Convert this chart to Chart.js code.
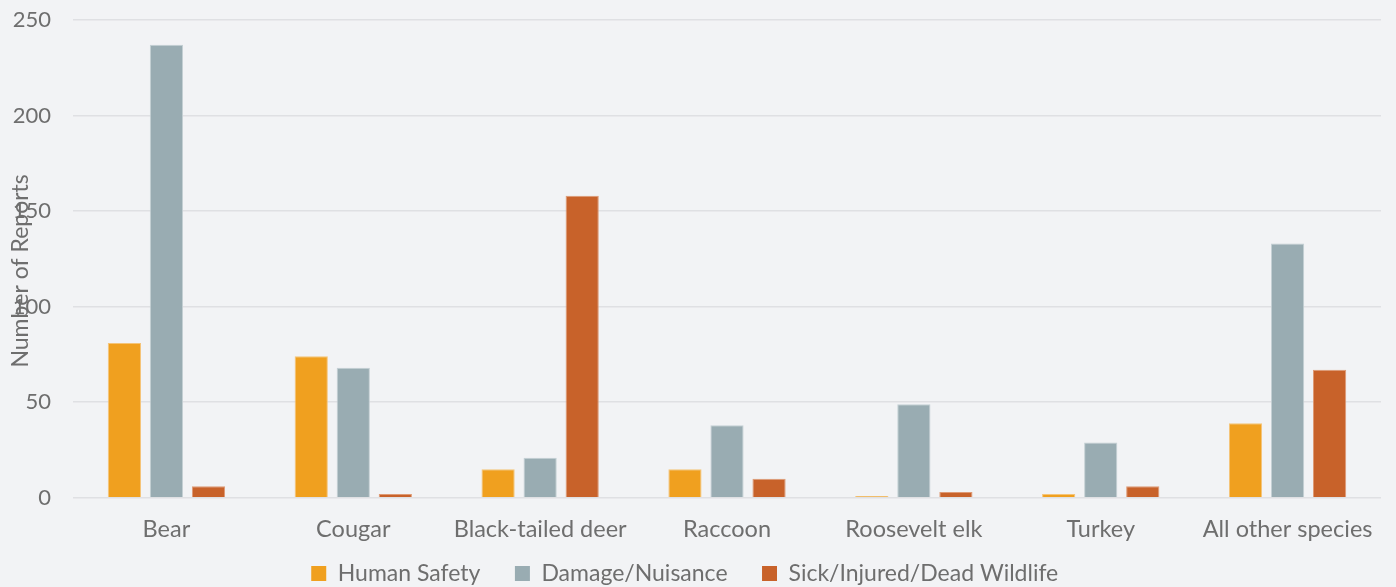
<!DOCTYPE html>
<html>
<head>
<meta charset="utf-8">
<script src="https://cdn.jsdelivr.net/npm/chart.js@4"></script>
<style>
html,body{margin:0;padding:0;background:#f2f3f5;}
#wrap{width:1396px;height:587px;position:relative;}
</style>
</head>
<body>
<div id="wrap"><canvas id="c"></canvas></div>
<script>
const categories = ["Bear","Cougar","Black-tailed deer","Raccoon","Roosevelt elk","Turkey","All other species"];
const humanSafety = [81, 74, 15, 15, 1, 2, 39];
const damageNuisance = [237, 68, 21, 38, 49, 29, 133];
const sickInjuredDead = [6, 2, 158, 10, 3, 6, 67];
const seriesNames = ["Human Safety","Damage/Nuisance","Sick/Injured/Dead Wildlife"];
const yTicks = [0, 50, 100, 150, 200, 250];
const yTitle = "Number of Reports";

const FONT = "Lato, 'Open Sans', sans-serif";
const TXT = "#6e6e6e";

const yTitlePlugin = {
  id: 'yTitle',
  afterDraw(chart) {
    const ctx = chart.ctx;
    const a = chart.chartArea;
    ctx.save();
    ctx.fillStyle = TXT;
    ctx.font = "23px " + FONT;
    ctx.textAlign = "center";
    ctx.textBaseline = "middle";
    ctx.translate(21, (a.top + a.bottom) / 2 + 12);
    ctx.rotate(-Math.PI / 2);
    ctx.fillText(yTitle, 0, 0);
    ctx.restore();
  }
};

new Chart(document.getElementById('c'), {
  type: 'bar',
  data: {
    labels: categories,
    datasets: [
      {label: seriesNames[0], data: humanSafety, backgroundColor: '#f0a01f', borderColor: '#f5c478', borderWidth: 1},
      {label: seriesNames[1], data: damageNuisance, backgroundColor: '#99acb2', borderColor: '#c4d0d4', borderWidth: 1},
      {label: seriesNames[2], data: sickInjuredDead, backgroundColor: '#c8622a', borderColor: '#de9a75', borderWidth: 1}
    ]
  },
  options: {
    responsive: true,
    maintainAspectRatio: false,
    animation: false,
    devicePixelRatio: 1,
    datasets: {bar: {categoryPercentage: 0.675, barPercentage: 0.79}},
    layout: {padding: {left: 0, right: 15, top: 20, bottom: -8}},
    plugins: {
      legend: {
        position: 'bottom',
        labels: {
          font: {family: FONT, size: 23},
          color: TXT,
          boxWidth: 15,
          boxHeight: 15,
          padding: 0,
          useBorderRadius: false,
          generateLabels(chart) {
            const items = Chart.defaults.plugins.legend.labels.generateLabels(chart);
            items.forEach((it, i) => {
              it.lineWidth = 0;
              it.text = it.text + (i < items.length - 1 ? '\u2003\u2003' : '\u2002');
            });
            return items;
          }
        }
      },
      tooltip: {enabled: false}
    },
    scales: {
      x: {
        grid: {display: false, drawTicks: false},
        border: {display: false},
        ticks: {font: {family: FONT, size: 23.5}, color: TXT, padding: 18, maxRotation: 0, autoSkip: false}
      },
      y: {
        min: 0, max: 250,
        afterBuildTicks(scale) { scale.ticks = yTicks.map(v => ({value: v})); },
        afterFit(scale) { scale.width = 73; scale.paddingTop = 0; scale.paddingBottom = 0; },
        grid: {color: '#dfe0e3', lineWidth: 1.5, drawTicks: false},
        border: {display: false},
        ticks: {font: {family: FONT, size: 22}, color: TXT, padding: 22}
      }
    }
  },
  plugins: [yTitlePlugin]
});
</script>
</body>
</html>
